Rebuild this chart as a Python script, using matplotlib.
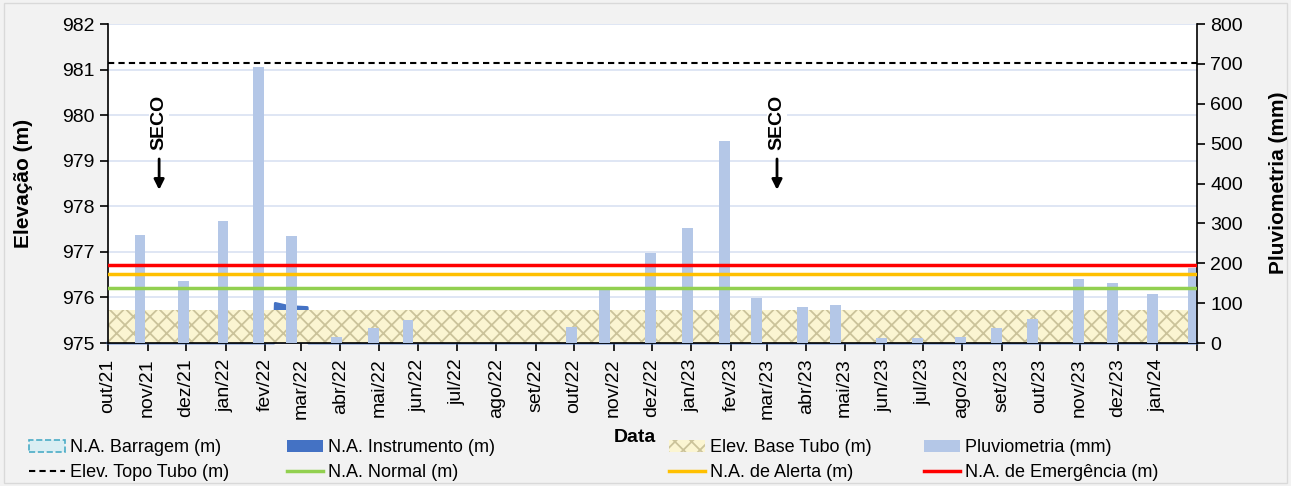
import matplotlib
matplotlib.use("Agg")
import matplotlib.pyplot as plt
from matplotlib.patches import Patch, Rectangle
from matplotlib.lines import Line2D
import numpy as np
import pandas as pd

plt.rcParams["font.family"] = ["Liberation Sans", "DejaVu Sans"]
plt.rcParams["hatch.linewidth"] = 1.3

# Pluviometria mensal (mm)
chuva_datas = ["2021-10-26", "2021-11-29", "2021-12-30", "2022-01-27", "2022-02-22",
               "2022-03-29", "2022-04-27", "2022-05-24", "2022-09-29", "2022-10-25",
               "2022-11-30", "2022-12-29", "2023-01-27", "2023-02-21", "2023-03-29",
               "2023-04-24", "2023-05-30", "2023-06-27", "2023-07-31", "2023-08-28",
               "2023-09-25", "2023-10-31", "2023-11-27", "2023-12-28", "2024-01-29"]
chuva_mm = [272, 155, 306, 692, 268,
            14, 38, 58, 40, 133,
            226, 288, 506, 113, 90,
            96, 12, 13, 15, 38,
            60, 160, 150, 123, 188]

# N.A. Instrumento (m) - 975.0 = seco
inst_datas = ["2021-10-01", "2022-02-08", "2022-02-09", "2022-02-20", "2022-03-06",
              "2022-03-07", "2024-02-01"]
inst_na = [975.0, 975.0, 975.87, 975.80, 975.78, 975.0, 975.0]

topo_tubo = 981.15
base_tubo = 975.72
na_normal = 976.21
na_alerta = 976.51
na_emergencia = 976.71

seco_datas = ["2021-11-10", "2023-03-09"]

meses_pt = ["jan", "fev", "mar", "abr", "mai", "jun", "jul", "ago", "set", "out", "nov", "dez"]

x_ini = pd.Timestamp("2021-10-01")
x_fim = pd.Timestamp("2024-02-01")

fig = plt.figure(figsize=(12.91, 4.86), dpi=100, facecolor="#F2F2F2")
fig.patches.append(Rectangle((0.003, 0.006), 0.994, 0.988, transform=fig.transFigure,
                             fill=False, edgecolor="#D9D9D9", lw=1))

ax = fig.add_axes([0.0837, 0.2942, 0.8435, 0.6564])
ax.set_facecolor("white")
ax_chuva = ax.twinx()
ax_top = ax.twinx()

# camada de base: grade, instrumento, base do tubo
ax.yaxis.grid(True, color="#D9E1F2", lw=1.2, zorder=0)
ax.set_axisbelow(True)
d_inst = pd.to_datetime(inst_datas)
ax.fill_between(d_inst, 975, inst_na, color="#4472C4", lw=0, zorder=1)
ax.plot(d_inst, inst_na, color="#4472C4", lw=2, zorder=1.5, clip_on=False)
ax.fill_between([x_ini, x_fim], 975, base_tubo, facecolor="#FBF5D2",
                hatch="xx", edgecolor="#CBC39A", linewidth=0, zorder=2)

# pluviometria
d_chuva = pd.to_datetime(chuva_datas)
ax_chuva.bar(d_chuva, chuva_mm, width=8.5, color="#B4C7E7", zorder=2)

# linhas de referencia
ax_top.axhline(topo_tubo, color="black", ls=(0, (3, 2)), lw=1.5)
ax_top.axhline(na_normal, color="#92D050", lw=2.5)
ax_top.axhline(na_alerta, color="#FFC000", lw=2.5)
ax_top.axhline(na_emergencia, color="#FF0000", lw=2.5)

for d in seco_datas:
    dt = pd.Timestamp(d)
    ax_top.text(dt, 979.85, "SECO", rotation=90, ha="center", va="center",
                fontsize=14, fontweight="bold",
                bbox=dict(facecolor="white", edgecolor="none", pad=1))
    ax_top.annotate("", xy=(dt, 978.3), xytext=(dt, 979.1),
                    arrowprops=dict(arrowstyle="-|>", color="black", lw=2,
                                    mutation_scale=15))

# eixos
for a in (ax, ax_chuva, ax_top):
    a.set_xlim(x_ini, x_fim)
ax.set_ylim(975, 982)
ax_top.set_ylim(975, 982)
ax_chuva.set_ylim(0, 800)

ax.set_yticks(np.arange(975, 983, 1))
ax_chuva.set_yticks(np.arange(0, 801, 100))
ax_top.set_yticks([])

meses = pd.date_range(x_ini, x_fim, freq="MS")
rotulos = [f"{meses_pt[m.month - 1]}/{m.year % 100:02d}" for m in meses]
rotulos[-1] = ""
ax.set_xticks(meses)
ax.set_xticklabels(rotulos, rotation=90, ha="center")

ax.tick_params(axis="both", direction="out", length=6, width=1.2, labelsize=14,
               colors="black")
ax.tick_params(axis="x", pad=5)
ax_chuva.tick_params(axis="y", direction="out", length=6, width=1.2, labelsize=14)

for s in ["top", "right"]:
    ax.spines[s].set_visible(False)
for s in ["left", "bottom"]:
    ax.spines[s].set_linewidth(1.2)
    ax.spines[s].set_zorder(5)
for s in ["top", "left", "bottom"]:
    ax_chuva.spines[s].set_visible(False)
ax_chuva.spines["right"].set_linewidth(1.2)
for s in ax_top.spines.values():
    s.set_visible(False)

fig.text(0.018, 0.623, "Elevação (m)", rotation=90, ha="center", va="center",
         fontsize=15, fontweight="bold")
fig.text(0.99, 0.623, "Pluviometria (mm)", rotation=90, ha="center", va="center",
         fontsize=15, fontweight="bold")
fig.text(0.492, 0.1008, "Data", ha="center", va="center", fontsize=14, fontweight="bold")

# legenda em 4 colunas
h_barragem = Patch(facecolor="#DAEEF3", edgecolor="#4BACC6", ls="--", lw=1.2)
h_topo = Line2D([], [], color="black", ls=(0, (3, 2)), lw=1.5)
h_inst = Patch(facecolor="#4472C4")
h_normal = Line2D([], [], color="#92D050", lw=2.5)
h_base = Patch(facecolor="#FBF5D2", hatch="xx", edgecolor="#CBC39A", lw=0)
h_alerta = Line2D([], [], color="#FFC000", lw=2.5)
h_chuva = Patch(facecolor="#B4C7E7")
h_emerg = Line2D([], [], color="#FF0000", lw=2.5)

colunas = [
    (0.0225, [h_barragem, h_topo], ["N.A. Barragem (m)", "Elev. Topo Tubo (m)"]),
    (0.2223, [h_inst, h_normal], ["N.A. Instrumento (m)", "N.A. Normal (m)"]),
    (0.5182, [h_base, h_alerta], ["Elev. Base Tubo (m)", "N.A. de Alerta (m)"]),
    (0.7157, [h_chuva, h_emerg], ["Pluviometria (mm)", "N.A. de Emergência (m)"]),
]
for x0, hs, ls in colunas:
    fig.legend(hs, ls, loc="upper left", bbox_to_anchor=(x0, 0.096), frameon=False,
               fontsize=13, handlelength=2.0, handletextpad=0.25, labelspacing=0.45,
               borderaxespad=0, borderpad=0)

fig.savefig("out.png", dpi=100, facecolor=fig.get_facecolor())
